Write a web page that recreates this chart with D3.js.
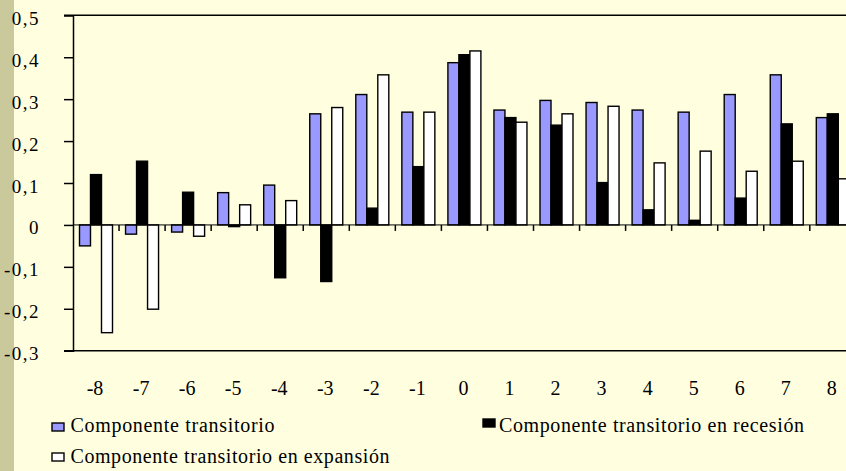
<!DOCTYPE html>
<html>
<head>
<meta charset="utf-8">
<script src="https://cdn.jsdelivr.net/npm/d3@7"></script>
</head>
<body style="margin:0;background:#ffffe0;font-family:'Liberation Serif'">
<svg id="chart" width="846" height="471" style="display:block;font-family:'Liberation Serif'"></svg>
<script>
const categories = ["-8","-7","-6","-5","-4","-3","-2","-1","0","1","2","3","4","5","6","7","8"];
const seriesNames = ["Componente transitorio", "Componente transitorio en recesión", "Componente transitorio en expansión"];
const transitorio = [-0.050, -0.022, -0.017, 0.077, 0.095, 0.265, 0.311, 0.269, 0.387, 0.274, 0.297, 0.292, 0.274, 0.269, 0.311, 0.358, 0.256];
const recesion    = [0.120, 0.152, 0.078, -0.004, -0.126, -0.135, 0.040, 0.139, 0.406, 0.256, 0.238, 0.101, 0.036, 0.011, 0.064, 0.241, 0.265];
const expansion   = [-0.257, -0.201, -0.027, 0.048, 0.058, 0.280, 0.358, 0.269, 0.415, 0.245, 0.265, 0.283, 0.148, 0.176, 0.128, 0.152, 0.110];
const yTicks = [-0.3, -0.2, -0.1, 0, 0.1, 0.2, 0.3, 0.4, 0.5];
const yTickLabels = ["-0,3", "-0,2", "-0,1", "0", "0,1", "0,2", "0,3", "0,4", "0,5"];
const colors = ["#9999ff", "#000000", "#ffffff"];

function draw() {
  const svg = d3.select("#chart");
  const W = 846, H = 471;

  function serifText(sel, size) {
    return sel.attr("font-family", "Times New Roman").style("font-family", "'Liberation Serif', serif")
      .attr("font-size", size).attr("fill", "#000");
  }

  svg.append("rect").attr("x", 0).attr("y", 0).attr("width", W).attr("height", H).attr("fill", "#ffffe0");
  svg.append("rect").attr("x", 0).attr("y", 0).attr("width", 14).attr("height", H).attr("fill", "#c9c99c");

  const left = 73, bandW = 46.05;
  const x = d3.scaleBand().domain(categories).range([left, left + bandW * categories.length]).padding(0);
  const xs = d3.scaleBand().domain(d3.range(3)).range([6.5, 39.5]).padding(0);
  const y = d3.scaleLinear().domain([-0.3, 0.5]).range([350.7, 15.3]);

  const data = [transitorio, recesion, expansion];

  const groups = svg.append("g");
  data.forEach((vals, si) => {
    groups.selectAll(null).data(vals).enter().append("rect")
      .attr("x", (d, i) => x(categories[i]) + xs(si))
      .attr("y", d => y(Math.max(0, d)))
      .attr("width", xs.bandwidth())
      .attr("height", d => Math.abs(y(d) - y(0)))
      .attr("fill", colors[si])
      .attr("stroke", "#000")
      .attr("stroke-width", 1.4);
  });

  const rightEnd = left + bandW * categories.length;
  svg.append("line").attr("x1", 64).attr("x2", rightEnd).attr("y1", y(0.5)).attr("y2", y(0.5)).attr("stroke", "#000").attr("stroke-width", 1.5);
  svg.append("line").attr("x1", 64).attr("x2", rightEnd).attr("y1", y(-0.3)).attr("y2", y(-0.3)).attr("stroke", "#000").attr("stroke-width", 1.5);

  const yAxis = d3.axisLeft(y).tickValues(yTicks).tickSize(9).tickPadding(24)
    .tickFormat((d, i) => yTickLabels[i]);
  const gy = svg.append("g").attr("transform", `translate(${left},0)`).call(yAxis);
  gy.attr("font-family", null).attr("font-size", 19);
  gy.select(".domain").attr("stroke", "#000").attr("stroke-width", 1.5);
  gy.selectAll(".tick line").attr("stroke", "#000").attr("stroke-width", 1.5);
  serifText(gy.selectAll(".tick text"), 19).attr("letter-spacing", 1.5).attr("dy", 9);

  svg.append("line").attr("x1", left).attr("x2", rightEnd).attr("y1", y(0)).attr("y2", y(0)).attr("stroke", "#000").attr("stroke-width", 1);
  const bounds = categories.slice(1).map(c => x(c));
  svg.selectAll(null).data(bounds).enter().append("line")
    .attr("x1", d => d).attr("x2", d => d)
    .attr("y1", y(0)).attr("y2", y(0) + 6)
    .attr("stroke", "#000").attr("stroke-width", 1.5);

  serifText(svg.selectAll(null).data(categories).enter().append("text"), 20)
    .attr("x", d => x(d) + x.bandwidth() / 2 - 1)
    .attr("y", 395)
    .attr("text-anchor", "middle")
    .text(d => d);

  const legendItems = [
    { i: 0, mx: 52, my: 423, tx: 70.5, ty: 432, len: 204 },
    { i: 1, mx: 483, my: 419, tx: 499, ty: 432, len: 305 },
    { i: 2, mx: 52, my: 453, tx: 70.5, ty: 463, len: 319 }
  ];
  legendItems.forEach(it => {
    svg.append("rect").attr("x", it.mx).attr("y", it.my).attr("width", 12).attr("height", 8)
      .attr("fill", colors[it.i]).attr("stroke", "#000").attr("stroke-width", 1.4);
    serifText(svg.append("text"), 20)
      .attr("x", it.tx).attr("y", it.ty)
      .attr("textLength", it.len).attr("lengthAdjust", "spacing")
      .text(seriesNames[it.i]);
  });
}

if (document.fonts && document.fonts.load) {
  document.fonts.load('20px "Liberation Serif"').then(draw, draw);
} else {
  draw();
}
</script>
</body>
</html>
